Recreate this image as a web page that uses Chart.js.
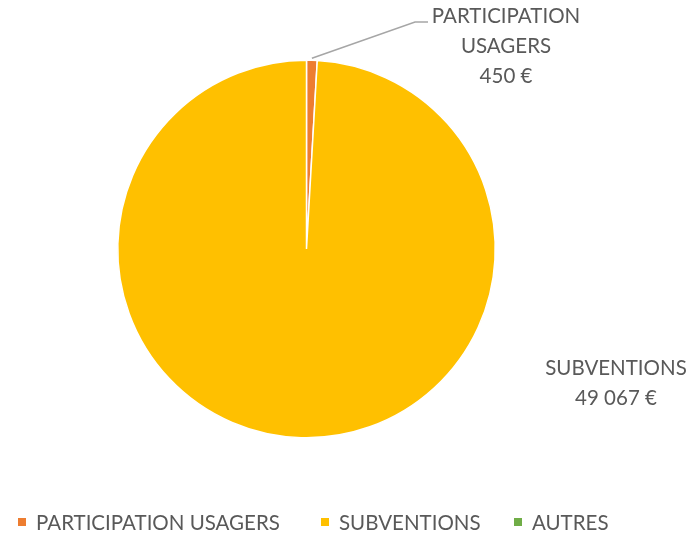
<!DOCTYPE html>
<html>
<head>
<meta charset="utf-8">
<script src="https://cdn.jsdelivr.net/npm/chart.js@4/dist/chart.umd.min.js"></script>
<style>
  html, body { margin: 0; padding: 0; background: #fff; }
  #wrap { width: 690px; height: 536px; }
</style>
</head>
<body>
<div id="wrap"><canvas id="pieChart" width="690" height="536"></canvas></div>
<script>
const categories = ['PARTICIPATION USAGERS', 'SUBVENTIONS', 'AUTRES'];
const montants = [450, 49067, 0];
const couleurs = ['#ED7D31', '#FFC000', '#70AD47'];
const etiquettes = [['PARTICIPATION', 'USAGERS', '450 €'], ['SUBVENTIONS', '49 067 €'], null];

const police = '"Lato", "Liberation Sans", sans-serif';
const gris = '#595959';

// etiquettes de donnees + ligne de rappel + legende
const etiquettesPlugin = {
    id: 'etiquettes',
    afterDraw(chart) {
        const ctx = chart.ctx;
        const arcs = chart.getDatasetMeta(0).data;
        ctx.save();
        ctx.font = '20.5px ' + police;
        ctx.fillStyle = gris;
        ctx.textAlign = 'center';
        ctx.textBaseline = 'middle';

        // ligne de rappel pour la petite part
        const a = arcs[0];
        const mid = (a.startAngle + a.endAngle) / 2;
        ctx.strokeStyle = '#A6A6A6';
        ctx.lineWidth = 1.5;
        ctx.beginPath();
        ctx.moveTo(a.x + Math.cos(mid) * a.outerRadius, a.y + Math.sin(mid) * a.outerRadius - 2);
        ctx.lineTo(415, 22);
        ctx.lineTo(428, 22);
        ctx.stroke();

        etiquettes[0].forEach((t, i) => ctx.fillText(t, 506, 16 + i * 30));
        etiquettes[1].forEach((t, i) => ctx.fillText(t, 616, 368 + i * 30));

        // legende
        ctx.textAlign = 'left';
        const xs = [18, 321, 514];
        categories.forEach((c, i) => {
            ctx.fillStyle = couleurs[i];
            ctx.fillRect(xs[i], 518, 8, 8);
            ctx.fillStyle = gris;
            ctx.fillText(c, xs[i] + 18, 523);
        });
        ctx.restore();
    }
};

new Chart(document.getElementById('pieChart').getContext('2d'), {
    type: 'pie',
    data: {
        labels: categories,
        datasets: [{
            data: montants,
            backgroundColor: couleurs,
            borderColor: '#ffffff',
            borderWidth: 1.5
        }]
    },
    options: {
        responsive: false,
        animation: false,
        layout: { padding: { left: 117, right: 194, top: 59, bottom: 97 } },
        plugins: {
            legend: { display: false },
            tooltip: { enabled: false }
        }
    },
    plugins: [etiquettesPlugin]
});
</script>
</body>
</html>
